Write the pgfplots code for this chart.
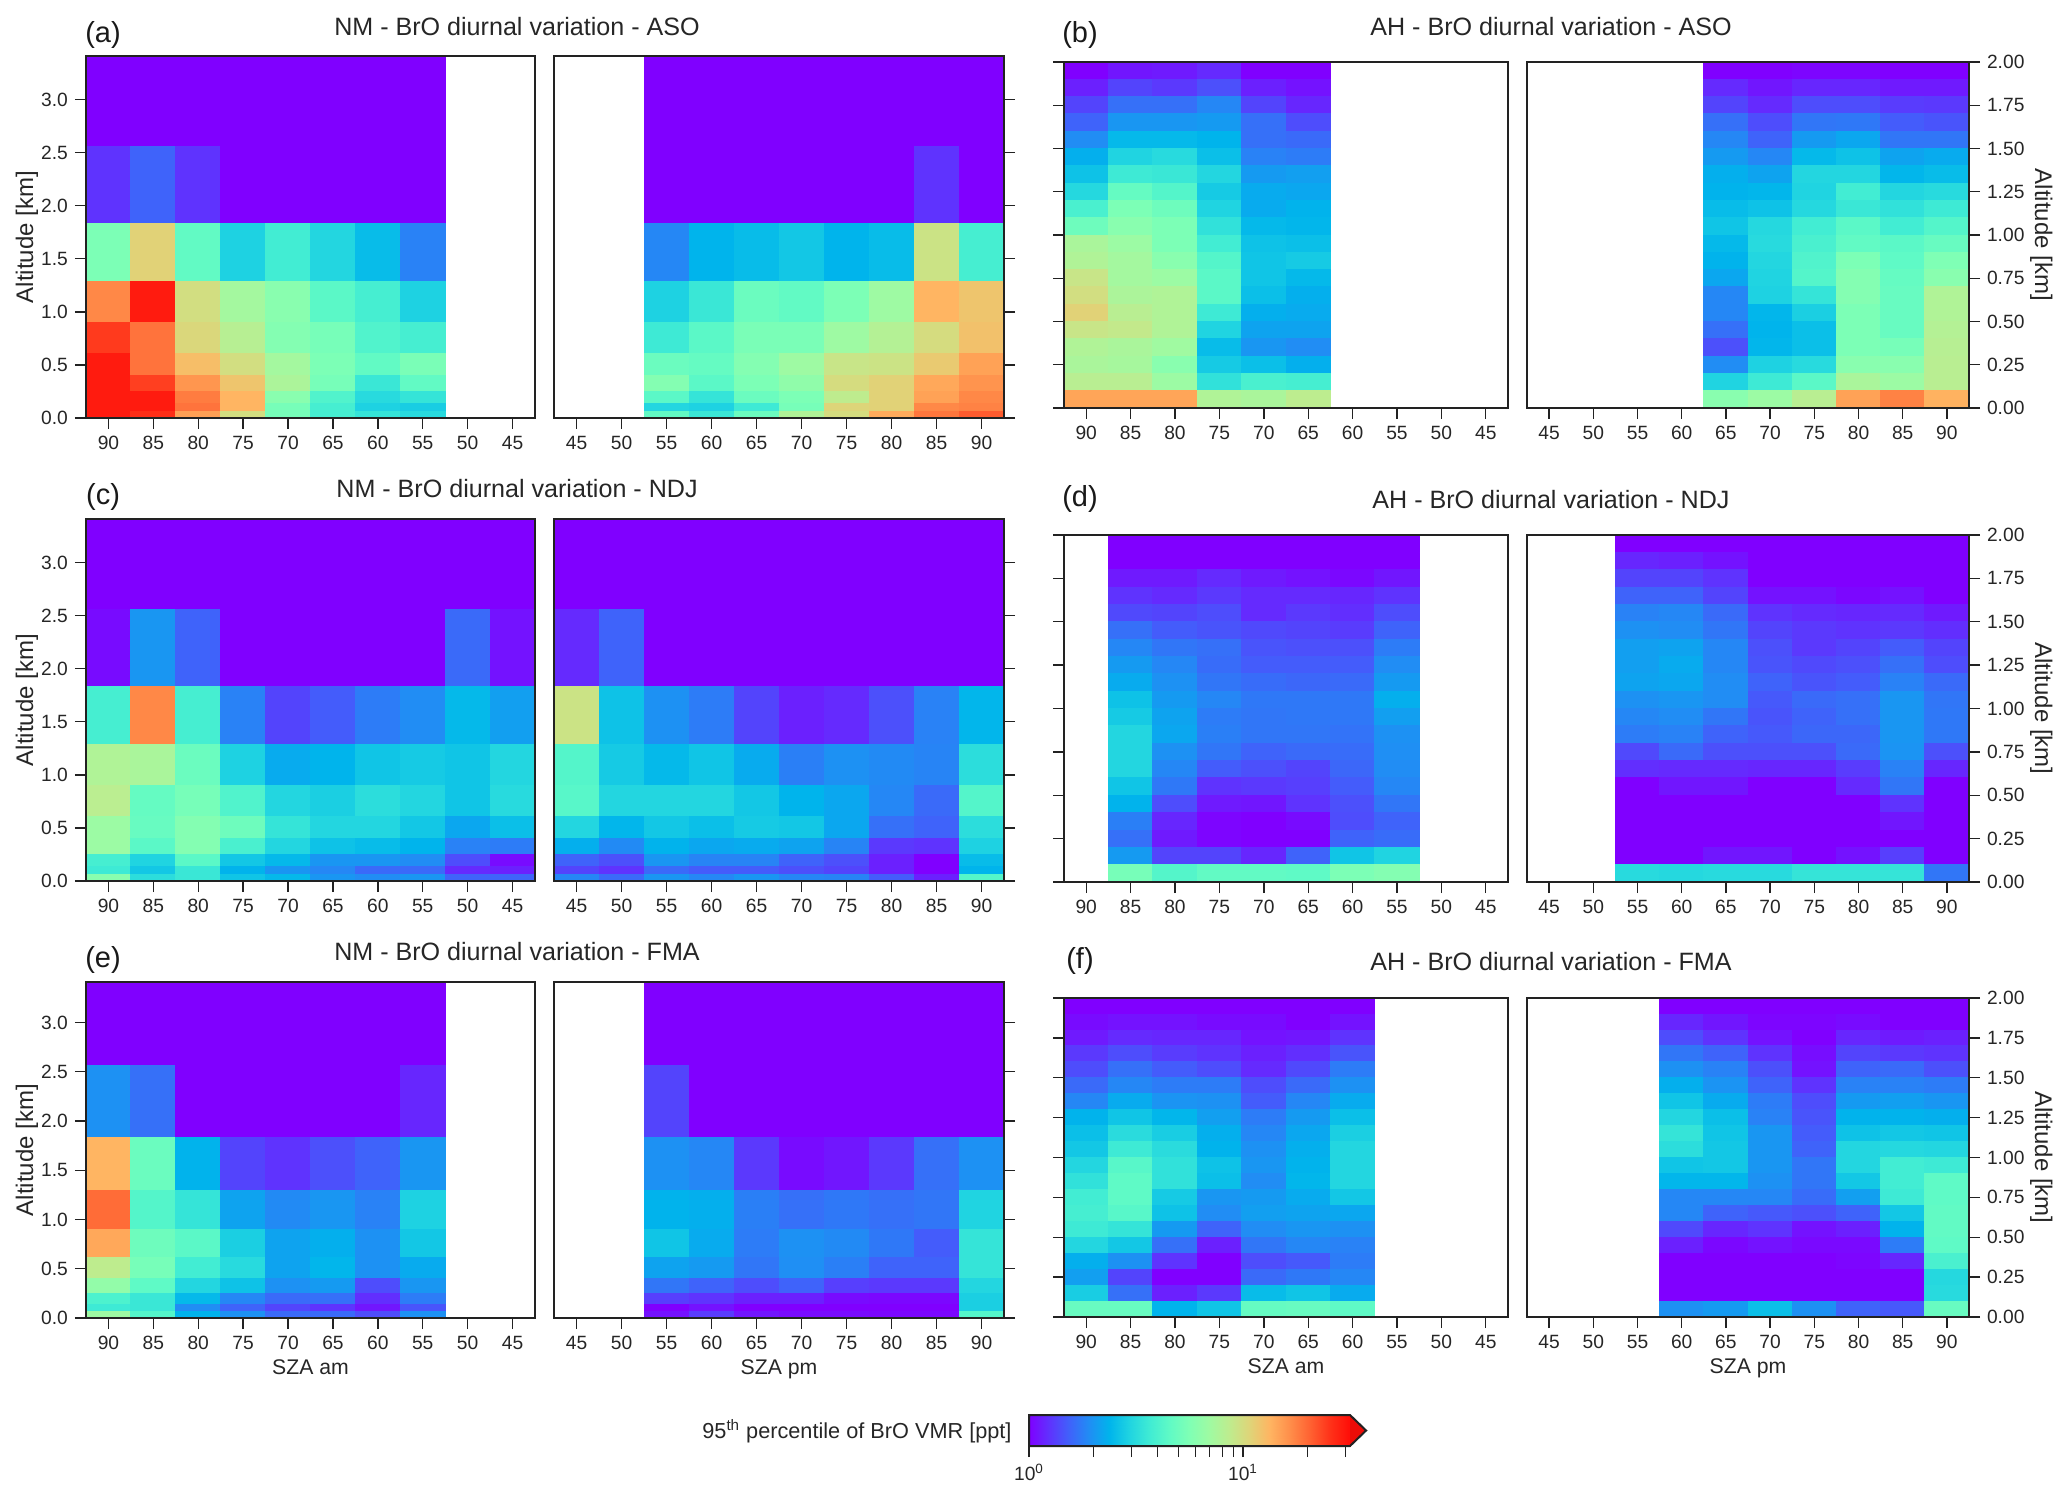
\documentclass[border=0pt]{standalone}
\usepackage{fontspec}
\setmainfont{Liberation Sans}
\usepackage{pgfplots}
\usepackage{pgfplotstable}
\pgfplotsset{compat=1.18}

% matplotlib rainbow, log10(VMR) from 0 to 1.5
\pgfplotsset{colormap={rb}{
  rgb=(.5,0,1) rgb=(.375,.195,.995) rgb=(.25,.383,.981) rgb=(.125,.556,.957)
  rgb=(0,.707,.924) rgb=(.125,.831,.882) rgb=(.25,.924,.831) rgb=(.375,.981,.773)
  rgb=(.5,1,.707) rgb=(.625,.981,.634) rgb=(.75,.924,.556) rgb=(.875,.831,.471)
  rgb=(1,.707,.383) rgb=(1,.556,.290) rgb=(1,.383,.195) rgb=(1,.195,.098) rgb=(1,.05,.03)}}
\definecolor{frame}{HTML}{222222}

% NM panels, tops of the layers first
\pgfplotstableread[header=has colnames]{
lo hi 90 85 80 75 70 65 60 55
2.56 3.41 1 1 1 1 1 1 1 1
1.83 2.56 1.25 1.55 1.25 1 1 1 1 1
1.29 1.83 5.5 10.9 4.6 2.9 3.7 3.0 2.5 1.8
0.90 1.29 17 29 9.8 7.2 6.0 4.4 3.8 2.9
0.61 0.90 24.5 18.8 10.4 8.2 5.8 5.3 4.1 3.8
0.40 0.61 29 18.8 12.5 9.8 7.2 5.5 4.6 5.4
0.25 0.40 29 24 15.8 11.9 7.6 5.3 3.5 4.6
0.138 0.25 29 29 18 13.3 6 4.1 3.1 3.4
0.063 0.138 29 29 18.8 13.3 5.3 3.8 2.9 2.8
0 0.063 29 26 14.9 9.8 5.3 3.8 3.4 3.1
}\tabAl
\pgfplotstableread[header=has colnames]{
lo hi 55 60 65 70 75 80 85 90
2.56 3.41 1 1 1 1 1 1 1 1
1.83 2.56 1 1 1 1 1 1 1.25 1
1.29 1.83 1.85 2.37 2.5 2.7 2.37 2.5 9.4 3.8
0.90 1.29 2.9 3.5 4.9 4.6 5.5 6.9 13.3 11.9
0.61 0.90 3.6 4.4 5.4 5.4 6.9 8 10 12.2
0.40 0.61 4.9 4.7 5.8 6.9 9.2 9.4 11.5 14.8
0.25 0.40 5.8 4.4 5.5 6.3 10 10.9 14.3 16
0.138 0.25 4.4 3.4 4.9 5.5 8.6 10.9 14.8 17
0.063 0.138 3 2.9 3.6 5.3 10.6 10.9 17 17.5
0 0.063 4.6 3.5 4.9 7.8 10 14 18.5 21
}\tabAr
\pgfplotstableread[header=has colnames]{
lo hi 90 85 80 75 70 65 60 55 50 45
2.56 3.41 1 1 1 1 1 1 1 1 1 1
1.83 2.56 1.05 2.0 1.55 1 1 1 1 1 1.6 1.08
1.29 1.83 3.8 17 3.8 1.8 1.35 1.5 1.75 1.9 2.45 2.1
0.90 1.29 7.8 7.5 4.9 2.9 2.25 2.37 2.65 2.75 2.65 3
0.61 0.90 8.4 4.7 5.3 4.1 3 2.85 3.2 3 2.65 3.1
0.40 0.61 6.8 4.8 5.8 5 3.4 3 3 2.7 2.2 2.55
0.25 0.40 6.8 4.4 5.8 3.9 3 2.6 2.5 2.37 1.8 1.75
0.138 0.25 3.8 2.95 4.4 2.7 2.45 2.0 2.0 1.9 1.4 1.05
0.063 0.138 3.6 2.7 3.5 2.35 2.0 1.85 1.6 1.6 1.2 1.15
0 0.063 6 3.2 3.5 2.65 2.45 2 1.9 2 1.55 1.55
}\tabCl
\pgfplotstableread[header=has colnames]{
lo hi 45 50 55 60 65 70 75 80 85 90
2.56 3.41 1 1 1 1 1 1 1 1 1 1
1.83 2.56 1.2 1.55 1 1 1 1 1 1 1 1
1.29 1.83 9.4 2.6 1.95 1.75 1.35 1.15 1.2 1.42 1.8 2.4
0.90 1.29 4.2 2.75 2.45 2.65 2.25 1.78 1.95 1.88 1.82 3.2
0.61 0.90 4.3 3 3 3 2.7 2.37 2.2 1.85 1.6 4.2
0.40 0.61 3 2.4 2.7 2.55 2.75 2.7 2.2 1.65 1.55 3.2
0.25 0.40 2.3 1.88 2.35 2.2 2.25 2.15 1.82 1.28 1.25 2.9
0.138 0.25 1.55 1.42 2 1.82 1.82 1.55 1.42 1.15 1 2.5
0.063 0.138 1.35 1.25 1.6 1.5 1.5 1.42 1.35 1.15 1 2.37
0 0.063 1.85 1.6 2 1.85 2 1.85 1.82 1.5 1.15 4.2
}\tabCr
\pgfplotstableread[header=has colnames]{
lo hi 90 85 80 75 70 65 60 55
2.56 3.41 1 1 1 1 1 1 1 1
1.83 2.56 1.95 1.65 1 1 1 1 1 1.18
1.29 1.83 13.3 4.9 2.35 1.35 1.25 1.42 1.55 2
0.90 1.29 19.5 4.2 3.4 2.15 1.88 2 1.8 2.9
0.61 0.90 14.3 5 4.4 2.85 2.15 2.3 1.95 2.7
0.40 0.61 8.6 5.3 3.7 3.1 2.15 2.4 1.95 2.25
0.25 0.40 6.4 4.5 3 2.6 1.95 2.05 1.4 2
0.138 0.25 4 3.5 2.45 1.85 1.6 1.65 1.22 1.75
0.063 0.138 3.6 3.5 1.9 1.55 1.35 1.25 1.1 1.45
0 0.063 6.9 4.2 2.35 1.95 1.6 1.6 1.4 1.95
}\tabEl
\pgfplotstableread[header=has colnames]{
lo hi 55 60 65 70 75 80 85 90
2.56 3.41 1 1 1 1 1 1 1 1
1.83 2.56 1.35 1 1 1 1 1 1 1
1.29 1.83 1.95 1.85 1.28 1.05 1.1 1.28 1.65 1.95
0.90 1.29 2.35 2.3 1.78 1.65 1.72 1.65 1.7 2.95
0.61 0.90 2.65 2.25 1.75 1.95 1.88 1.72 1.5 3.4
0.40 0.61 2.15 2.05 1.7 1.92 1.78 1.55 1.55 3.4
0.25 0.40 1.7 1.55 1.4 1.55 1.32 1.28 1.28 3
0.138 0.25 1.32 1.25 1.15 1.15 1.05 1.03 1.03 2.85
0.063 0.138 1 1.08 1 1 1 1 1 2.85
0 0.063 1.08 1.3 1.1 1.05 1.05 1.03 1.03 4.2
}\tabEr

% AH panels
\pgfplotstableread[header=has colnames]{
lo hi 90 85 80 75 70 65
1.9 2.0 1 1.1 1.12 1.2 1 1
1.8 1.9 1.15 1.35 1.28 1.42 1.15 1.08
1.7 1.8 1.35 1.65 1.65 1.85 1.35 1.18
1.6 1.7 1.55 2 2 2.05 1.65 1.4
1.5 1.6 1.9 2.45 2.45 2.37 1.65 1.6
1.4 1.5 2.3 2.95 3.1 2.55 1.8 1.75
1.3 1.4 2.6 3.6 3.5 3 2.05 2.1
1.2 1.3 3.05 4.7 4.2 2.75 2.25 2.2
1.1 1.2 3.9 5.5 5 2.95 2.25 2.35
1.0 1.1 5 6 5.5 3.3 2.45 2.4
0.9 1.0 7.5 6.8 5.5 3.7 2.6 2.55
0.8 0.9 7.8 7.2 6 4.2 2.65 2.75
0.7 0.8 9.2 7.2 6.8 4.4 2.65 2.45
0.6 0.7 9.8 7.6 7.8 4.4 2.55 2.3
0.5 0.6 10.9 8.3 7.8 3.6 2.3 2.25
0.4 0.5 9.2 8.9 7.8 2.95 2.15 2.15
0.3 0.4 7.8 7.5 7 2.5 2.0 1.9
0.2 0.3 7.5 7.3 6 2.75 2.55 2.3
0.1 0.2 8.3 8.3 6.8 3.3 3.9 3.8
0.0 0.1 14.5 14.5 14.5 7.8 7.5 8.5
}\tabBl
\pgfplotstableread[header=has colnames]{
lo hi 65 70 75 80 85 90
1.9 2.0 1 1 1.02 1.02 1 1
1.8 1.9 1.2 1.1 1.18 1.18 1.12 1.12
1.7 1.8 1.35 1.2 1.4 1.4 1.3 1.28
1.6 1.7 1.65 1.4 1.7 1.72 1.5 1.45
1.5 1.6 1.85 1.55 2.05 2.2 1.7 1.7
1.4 1.5 2.05 1.85 2.45 2.6 2.15 2.25
1.3 1.4 2.3 2.15 3 3 2.4 2.5
1.2 1.3 2.35 2.4 2.95 3.7 3 3.1
1.1 1.2 2.5 2.6 3.05 3.5 3.3 3.6
1.0 1.1 2.65 3.05 3.7 4.4 3.7 4.2
0.9 1.0 2.45 3.1 3.9 4.6 4.4 4.8
0.8 0.9 2.35 3 4.1 5.5 4.5 5.6
0.7 0.8 2.2 2.95 4.2 5.8 4.7 6
0.6 0.7 1.85 2.9 3.4 5.8 4.8 7.8
0.5 0.6 1.85 2.4 2.85 5.5 4.8 7.8
0.4 0.5 1.65 2.37 2.55 5.5 4.8 8
0.3 0.4 1.42 2.4 2.55 5.5 5.3 8.2
0.2 0.3 1.9 2.9 3.1 6 6 8.3
0.1 0.2 2.95 3.6 4.4 7.5 6.8 8.3
0.0 0.1 6 6.8 8.3 14.8 17.5 13.5
}\tabBr
\pgfplotstableread[header=has colnames]{
lo hi 85 80 75 70 65 60 55
1.9 2.0 1 1 1 1 1 1 1
1.8 1.9 1 1 1 1 1 1 1
1.7 1.8 1.12 1.12 1.2 1.12 1.08 1.03 1.1
1.6 1.7 1.25 1.2 1.28 1.2 1.2 1.18 1.25
1.5 1.6 1.38 1.35 1.4 1.2 1.28 1.22 1.4
1.4 1.5 1.65 1.5 1.45 1.38 1.35 1.3 1.55
1.3 1.4 1.85 1.7 1.65 1.45 1.42 1.42 1.75
1.2 1.3 2.05 1.85 1.62 1.5 1.5 1.5 1.9
1.1 1.2 2.25 1.95 1.7 1.62 1.58 1.6 2.05
1.0 1.1 2.6 2.05 1.85 1.72 1.72 1.72 2.3
0.9 1.0 2.75 2.15 1.75 1.7 1.72 1.72 2.1
0.8 0.9 3 2.2 1.78 1.7 1.7 1.68 1.95
0.7 0.8 3 1.95 1.7 1.55 1.6 1.62 1.92
0.6 0.7 3 1.85 1.5 1.42 1.35 1.58 1.9
0.5 0.6 2.65 1.72 1.25 1.28 1.32 1.5 1.85
0.4 0.5 2.35 1.4 1.12 1.1 1.25 1.42 1.7
0.3 0.4 1.78 1.18 1.02 1 1.05 1.4 1.55
0.2 0.3 1.65 1.12 1.02 1 1 1.55 1.62
0.1 0.2 2.05 1.35 1.35 1.18 1.55 2.65 2.95
0.0 0.1 5.3 4.2 4.6 4.6 4.5 5.5 5.8
}\tabDl
\pgfplotstableread[header=has colnames]{
lo hi 55 60 65 70 75 80 85 90
1.9 2.0 1 1 1 1 1 1 1 1
1.8 1.9 1.18 1.15 1.08 1 1 1 1 1
1.7 1.8 1.35 1.35 1.25 1 1 1 1 1
1.6 1.7 1.55 1.55 1.35 1.08 1.08 1.03 1.08 1
1.5 1.6 1.8 1.85 1.6 1.25 1.2 1.18 1.2 1.12
1.4 1.5 1.95 1.9 1.7 1.35 1.28 1.25 1.28 1.22
1.3 1.4 2.1 2.15 1.85 1.42 1.28 1.35 1.5 1.35
1.2 1.3 2.1 2.25 1.85 1.45 1.38 1.42 1.65 1.4
1.1 1.2 2.15 2.2 1.9 1.55 1.45 1.5 1.8 1.6
1.0 1.1 1.95 2 1.9 1.48 1.6 1.65 2 1.7
0.9 1.0 1.85 1.9 1.7 1.45 1.55 1.65 2 1.72
0.8 0.9 1.75 1.8 1.55 1.48 1.58 1.58 2 1.72
0.7 0.8 1.38 1.6 1.42 1.42 1.42 1.6 1.98 1.42
0.6 0.7 1.22 1.2 1.2 1.18 1.18 1.3 1.8 1.18
0.5 0.6 1 1.1 1.1 1 1 1.2 1.7 1
0.4 0.5 1 1 1 1 1 1 1.25 1
0.3 0.4 1 1 1 1 1 1 1.1 1
0.2 0.3 1 1 1 1 1 1 1 1
0.1 0.2 1 1 1.1 1.1 1 1.08 1.32 1
0.0 0.1 3.1 3.05 3.1 3.1 3.4 3.4 3.4 1.7
}\tabDr
\pgfplotstableread[header=has colnames]{
lo hi 90 85 80 75 70 65 60
1.9 2.0 1 1 1 1 1 1 1
1.8 1.9 1.05 1.08 1.08 1.05 1.05 1 1.08
1.7 1.8 1.12 1.2 1.18 1.18 1.08 1.1 1.25
1.6 1.7 1.28 1.4 1.3 1.25 1.15 1.22 1.45
1.5 1.6 1.4 1.65 1.5 1.4 1.2 1.38 1.75
1.4 1.5 1.6 1.85 1.75 1.75 1.4 1.6 1.95
1.3 1.4 1.85 2.25 1.98 1.95 1.5 1.85 2.25
1.2 1.3 2.35 2.65 2.4 2.1 1.75 2.05 2.55
1.1 1.2 2.55 3.15 2.8 2.3 1.85 2.2 2.85
1.0 1.1 2.7 3.6 3.15 2.35 1.95 2.3 3
0.9 1.0 3 4.3 3.3 2.6 2 2.35 3
0.8 0.9 3.3 4.5 3.3 2.55 1.9 2.4 3
0.7 0.8 3.7 4.5 2.75 2 2.05 2.25 2.7
0.6 0.7 3.8 4.3 2.6 1.9 2.1 2.15 2.2
0.5 0.6 3.6 3.4 2.05 1.55 1.9 2 1.95
0.4 0.5 3 2.7 1.65 1.15 1.7 1.85 1.8
0.3 0.4 2.3 1.95 1.25 1 1.4 1.48 1.75
0.2 0.3 2.1 1.35 1 1 1.6 1.72 1.85
0.1 0.2 2.8 1.65 1.15 1.28 2.5 2.65 2.25
0.0 0.1 4.8 4.8 2.37 2.65 4.7 4.8 4.5
}\tabFl
\pgfplotstableread[header=has colnames]{
lo hi 60 65 70 75 80 85 90
1.9 2.0 1 1 1 1 1 1 1
1.8 1.9 1.18 1.1 1.02 1.02 1.05 1 1
1.7 1.8 1.4 1.25 1.08 1 1.18 1.12 1.15
1.6 1.7 1.7 1.55 1.25 1.06 1.35 1.28 1.25
1.5 1.6 1.95 1.8 1.42 1.08 1.55 1.6 1.42
1.4 1.5 2.3 1.98 1.55 1.25 1.8 1.8 1.75
1.3 1.4 2.65 2.25 1.75 1.4 2.05 2.1 2
1.2 1.3 3 2.55 1.8 1.45 2.35 2.35 2.3
1.1 1.2 3.4 2.65 2 1.5 2.6 2.7 2.65
1.0 1.1 3.2 2.7 2 1.55 3 3.05 3
0.9 1.0 2.65 2.7 2 1.7 3 3.7 3.6
0.8 0.9 2.4 2.4 1.95 1.7 2.7 3.7 4.5
0.7 0.8 1.85 1.85 1.85 1.62 2.1 3.6 4.5
0.6 0.7 1.85 1.55 1.48 1.42 1.55 2.7 4.6
0.5 0.6 1.38 1.18 1.25 1.08 1.15 2.35 4.6
0.4 0.5 1.15 1.03 1.08 1.04 1.04 1.75 4.5
0.3 0.4 1 1 1 1 1.02 1.18 3.9
0.2 0.3 1 1 1 1 1 1 3.05
0.1 0.2 1 1 1 1 1 1 3.1
0.0 0.1 1.95 2.05 2.55 1.95 1.55 1.48 4.8
}\tabFr

% collects the four corners of every cell of a table into \cells
\newcommand{\buildcells}[1]{%
  \gdef\cells{}%
  \pgfplotstablegetrowsof{#1}\pgfmathtruncatemacro\nr{\pgfplotsretval-1}%
  \pgfplotstablegetcolsof{#1}\pgfmathtruncatemacro\nc{\pgfplotsretval-1}%
  \foreach \rr in {0,...,\nr}{%
    \pgfplotstablegetelem{\rr}{lo}\of{#1}\let\ylo\pgfplotsretval
    \pgfplotstablegetelem{\rr}{hi}\of{#1}\let\yhi\pgfplotsretval
    \foreach \cc in {2,...,\nc}{%
      \pgfplotstablegetcolumnnamebyindex{\cc}\of{#1}\to\sza
      \pgfplotstablegetelem{\rr}{[index]\cc}\of{#1}\let\vmr\pgfplotsretval
      \pgfmathsetmacro\xa{\sza-2.5}%
      \pgfmathsetmacro\xb{\sza+2.5}%
      \pgfmathsetmacro\mm{log10(\vmr)}%
      \xdef\cells{\cells (\xa,\ylo)[\mm] (\xb,\ylo)[\mm] (\xb,\yhi)[\mm] (\xa,\yhi)[\mm] }%
    }%
  }%
}
\newcommand{\drawcells}[1]{%
  \buildcells{#1}%
  \edef\temp{\noexpand\addplot[heat] coordinates {\cells};}\temp
}

\pgfplotsset{
  heat/.style={patch, patch type=rectangle, shader=flat, point meta=explicit,
    forget plot},
  base/.style={
    scale only axis, anchor=south west, axis on top,
    colormap name=rb, point meta min=0, point meta max=1.5,
    xmin=42.5, xmax=92.5, xtick={45,50,...,90},
    tick align=outside, major tick length=5.5pt, xtick pos=bottom,
    axis line style={line width=1.1pt, draw=frame},
    tick style={line width=.7pt, draw=frame},
    tick label style={font=\fontsize{9.6}{11}\selectfont, text=black!85},
    /pgf/number format/assume math mode=true,
    xlabel style={font=\fontsize{10.6}{12}\selectfont, text=black!85, yshift=2pt},
    ylabel style={font=\fontsize{12}{14}\selectfont, text=black!85},
  },
  nm/.style={base, ymin=0, ymax=3.41, ytick={0,0.5,...,3},
    yticklabel style={/pgf/number format/.cd, fixed, fixed zerofill, precision=1}},
  ah/.style={base, ymin=0, ymax=2, ytick={0,0.25,...,2},
    yticklabel style={/pgf/number format/.cd, fixed, fixed zerofill, precision=2}},
  nmL/.style={nm, x dir=reverse, width=224.5pt, ytick pos=left, ylabel={Altitude [km]},
    ylabel style={yshift=-5.3pt}},
  nmR/.style={nm, width=225pt, ytick pos=right, yticklabels={}},
  ahL/.style={ah, x dir=reverse, width=222pt, ytick pos=left, yticklabels={}},
  ahR/.style={ah, width=221pt, ytick pos=right, yticklabel pos=right,
    ylabel={Altitude [km]}, ylabel style={rotate=180, yshift=-4pt}},
}
\newcommand{\tfont}{\fontsize{12.55}{14}\selectfont}
\newcommand{\lfont}{\fontsize{14.5}{16}\selectfont}

\begin{document}
\begin{tikzpicture}
\path[use as bounding box] (0,0) rectangle (1033.5pt,750.5pt);

% row 1
\begin{axis}[nmL, at={(43pt,541.5pt)}, height=181pt]
\drawcells{\tabAl}
\end{axis}
\begin{axis}[nmR, at={(277pt,541.5pt)}, height=181pt]
\drawcells{\tabAr}
\end{axis}
\begin{axis}[ahL, at={(532pt,546.5pt)}, height=173pt]
\drawcells{\tabBl}
\end{axis}
\begin{axis}[ahR, at={(763.5pt,546.5pt)}, height=173pt]
\drawcells{\tabBr}
\end{axis}

% row 2
\begin{axis}[nmL, at={(43pt,310pt)}, height=181pt]
\drawcells{\tabCl}
\end{axis}
\begin{axis}[nmR, at={(277pt,310pt)}, height=181pt]
\drawcells{\tabCr}
\end{axis}
\begin{axis}[ahL, at={(532pt,309.5pt)}, height=173.5pt]
\drawcells{\tabDl}
\end{axis}
\begin{axis}[ahR, at={(763.5pt,309.5pt)}, height=173.5pt]
\drawcells{\tabDr}
\end{axis}

% row 3
\begin{axis}[nmL, at={(43pt,91.5pt)}, height=168pt, xlabel={SZA am}]
\drawcells{\tabEl}
\end{axis}
\begin{axis}[nmR, at={(277pt,91.5pt)}, height=168pt, xlabel={SZA pm}]
\drawcells{\tabEr}
\end{axis}
\begin{axis}[ahL, at={(532pt,92pt)}, height=159.5pt, xlabel={SZA am}]
\drawcells{\tabFl}
\end{axis}
\begin{axis}[ahR, at={(763.5pt,92pt)}, height=159.5pt, xlabel={SZA pm}]
\drawcells{\tabFr}
\end{axis}

% titles
\node[font=\tfont,text=black!85] at (258.5pt,737pt) {NM - BrO diurnal variation - ASO};
\node[font=\tfont,text=black!85] at (258.5pt,506pt) {NM - BrO diurnal variation - NDJ};
\node[font=\tfont,text=black!85] at (258.5pt,274.5pt) {NM - BrO diurnal variation - FMA};
\node[font=\tfont,text=black!85] at (775.5pt,737pt) {AH - BrO diurnal variation - ASO};
\node[font=\tfont,text=black!85] at (775.5pt,500.5pt) {AH - BrO diurnal variation - NDJ};
\node[font=\tfont,text=black!85] at (775.5pt,269.5pt) {AH - BrO diurnal variation - FMA};
\node[font=\lfont,text=black!90] at (51.5pt,733pt) {(a)};
\node[font=\lfont,text=black!90] at (540pt,733pt) {(b)};
\node[font=\lfont,text=black!90] at (51.5pt,502pt) {(c)};
\node[font=\lfont,text=black!90] at (540pt,501pt) {(d)};
\node[font=\lfont,text=black!90] at (51.5pt,270.5pt) {(e)};
\node[font=\lfont,text=black!90] at (540pt,270pt) {(f)};

% colour bar
\begin{axis}[scale only axis, anchor=south west, at={(514.5pt,27.5pt)},
  width=160.5pt, height=15.5pt, xmode=log, xmin=1, xmax=31.62, ymin=0, ymax=1,
  colormap name=rb, point meta min=0, point meta max=1.5, clip=false,
  axis line style={draw=none}, ytick=\empty,
  xtick={1,10}, xticklabels={10\textsuperscript{0},10\textsuperscript{1}},
  minor xtick={2,3,4,5,6,7,8,9,20,30}, xtick pos=bottom, tick align=outside,
  major tick length=5.5pt, minor tick length=5.5pt,
  tick style={line width=.6pt, draw=frame},
  tick label style={font=\fontsize{9.6}{11}\selectfont, text=black!85}]
\addplot[patch, patch type=rectangle, shader=interp, point meta=explicit, forget plot]
  coordinates {(1,0)[0] (31.62,0)[1.5] (31.62,1)[1.5] (1,1)[0]};
\addplot[fill={rgb:red,1;green,.05;blue,.03}, draw=none, forget plot]
  coordinates {(31.62,0) (37.6,0.5) (31.62,1)} -- cycle;
\addplot[draw=frame, line width=1pt, forget plot]
  coordinates {(1,0) (31.62,0) (37.6,0.5) (31.62,1) (1,1)} -- cycle;
\end{axis}
\node[anchor=east,font=\fontsize{10.85}{13}\selectfont,text=black!85] at (509.3pt,35pt)
  {95\textsuperscript{th} percentile of BrO VMR [ppt]};
\end{tikzpicture}
\end{document}
